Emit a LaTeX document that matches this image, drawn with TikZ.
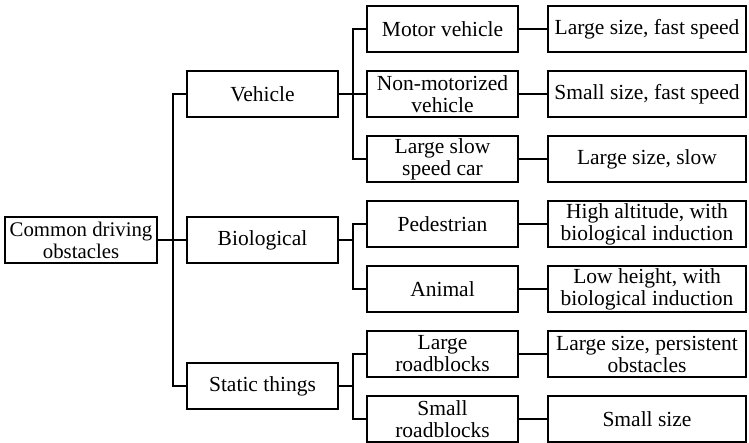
\documentclass[tikz,border=0pt]{standalone}
\usepackage{fontspec}
\setmainfont{Liberation Serif}
\begin{document}
\begin{tikzpicture}[x=1pt,y=-1pt,
  box/.style={draw,line width=1.5pt,inner sep=0pt,align=center,
    font=\fontsize{21.5}{22}\selectfont,minimum height=46pt},
  rootbox/.style={box,minimum width=152pt,font=\fontsize{20.8}{22}\selectfont},
  midbox/.style={box,minimum width=151pt},
  leafbox/.style={box,minimum width=198pt},
  link/.style={line width=1.5pt}]
\useasboundingbox (0,0) rectangle (749,443);
% tree nodes
\node[rootbox] (root) at (81,240) {Common driving\\obstacles};
\node[midbox] (veh)  at (262.5,94)  {Vehicle};
\node[midbox] (bio)  at (262.5,240) {Biological};
\node[midbox] (stat) at (262.5,386) {Static things};
\node[midbox] (mv)  at (442.5,29)  {Motor vehicle};
\node[midbox] (nmv) at (442.5,94)  {Non-motorized\\vehicle};
\node[midbox] (lsc) at (442.5,159) {Large slow\\speed car};
\node[midbox] (ped) at (442.5,224) {Pedestrian};
\node[midbox] (ani) at (442.5,289) {Animal};
\node[midbox] (lrb) at (442.5,354) {Large\\roadblocks};
\node[midbox] (srb) at (442.5,419) {Small\\roadblocks};
\node[leafbox] (f1) at (647,29)  {Large size, fast speed};
\node[leafbox] (f2) at (647,94)  {Small size, fast speed};
\node[leafbox] (f3) at (647,159) {Large size, slow};
\node[leafbox] (f4) at (647,224) {High altitude, with\\biological induction};
\node[leafbox] (f5) at (647,289) {Low height, with\\biological induction};
\node[leafbox] (f6) at (647,354) {Large size, persistent\\obstacles};
\node[leafbox] (f7) at (647,419) {Small size};
% bus columns
\coordinate (t0) at (173,0);
\coordinate (t1) at (353,0);
% root to first level
\draw[link] (root.east) -- (bio.west);
\draw[link] (veh.west) -- (veh.west -| t0) -- (stat.west -| t0) -- (stat.west);
% first level to second level
\draw[link] (veh.east) -- (nmv.west);
\draw[link] (mv.west) -- (mv.west -| t1) -- (lsc.west -| t1) -- (lsc.west);
\draw[link] (bio.east) -- (bio.east -| t1);
\draw[link] (ped.west) -- (ped.west -| t1) -- (ani.west -| t1) -- (ani.west);
\draw[link] (stat.east) -- (stat.east -| t1);
\draw[link] (lrb.west) -- (lrb.west -| t1) -- (srb.west -| t1) -- (srb.west);
% second level to leaves
\foreach \a/\b in {mv/f1,nmv/f2,lsc/f3,ped/f4,ani/f5,lrb/f6,srb/f7}
  \draw[link] (\a.east) -- (\b.west);
\end{tikzpicture}
\end{document}
